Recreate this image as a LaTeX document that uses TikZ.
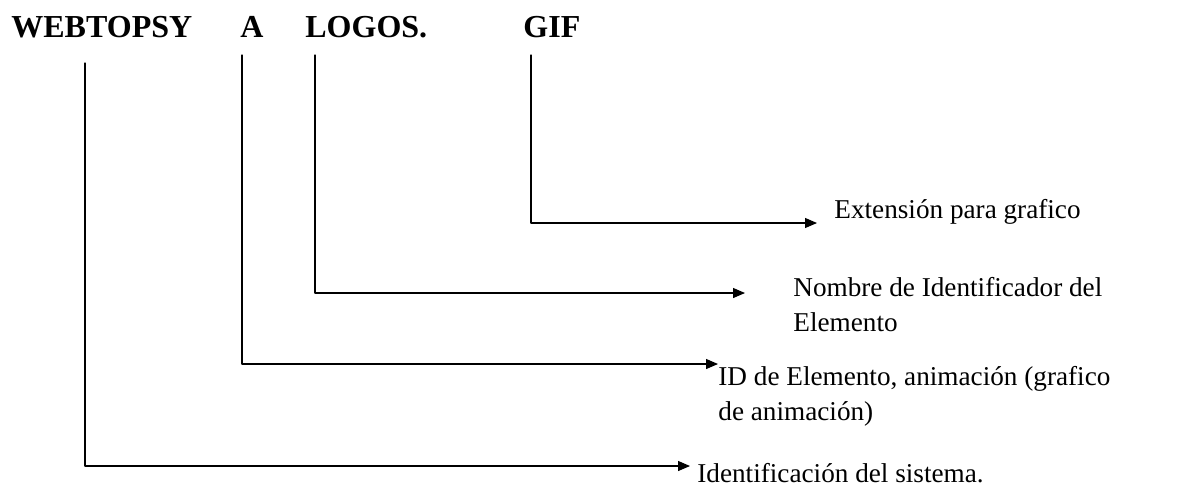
\documentclass[tikz,border=0pt]{standalone}
\usepackage{fontspec}
\setmainfont{Liberation Serif}
\usetikzlibrary{arrows.meta}
\begin{document}
\begin{tikzpicture}[x=0.5pt, y=-0.5pt, line cap=round, line join=round,
    tag/.style={font=\fontsize{16}{19}\selectfont\bfseries, inner sep=0pt, anchor=base west},
    desc/.style={font=\fontsize{13.6}{17.5}\selectfont, inner sep=0pt, align=left},
    conn/.style={line width=0.6pt, -{Triangle[length=6pt, width=5pt]}}]
    \useasboundingbox (0,0) rectangle (1197,489);
    % ============= NOMBRE DEL ARCHIVO
    \foreach \n/\x/\t in {web/11/WEBTOPSY, ani/240/A, logo/305/LOGOS., gif/523/GIF}{
        \node[tag] (\n) at (\x,37) {\t};}
    \foreach \n/\x/\y in {webT/85/63, aniT/242/55, logoT/315/55, gifT/531/55}{
        \coordinate (\n) at (\x,\y);}
    % ============= DESCRIPCIONES
    \node[desc, anchor=base west] (ext) at (834,218) {Extensión para grafico};
    \node[desc, anchor=north west] (nom) at (793,277) {Nombre de Identificador del\\Elemento};
    \node[desc, anchor=north west] (idel) at (718,366) {ID de Elemento, animación (grafico\\de animación)};
    \node[desc, anchor=base west] (sis) at (697,482) {Identificación del sistema.};
    %---
    \draw[conn] (gifT) |- ([shift={(-17,5)}]ext.base west);
    \draw[conn] (logoT) |- ([shift={(-48,16)}]nom.north west);
    \draw[conn] (aniT) |- ([shift={(0,-2)}]idel.north west);
    \draw[conn] (webT) |- ([shift={(-7,-16)}]sis.base west);
\end{tikzpicture}
\end{document}
